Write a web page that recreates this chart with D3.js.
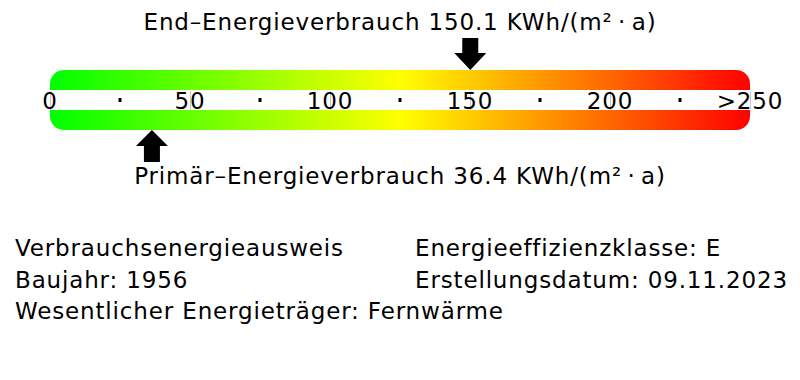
<!DOCTYPE html>
<html>
<head>
<meta charset="utf-8">
<script src="https://cdn.jsdelivr.net/npm/d3@7"></script>
<style>
  html, body { margin: 0; padding: 0; background: #fff; }
  text { font-family: "DejaVu Sans", sans-serif; fill: #000; font-size: 23px; letter-spacing: 0.85px; }
</style>
</head>
<body>
<div class="chart"></div>
<script>
// scale of the energy bar
const scaleTicks = [0, 50, 100, 150, 200, 250];
const tickLabels = ["0", "50", "100", "150", "200", ">250"];
const minorTicks = [25, 75, 125, 175, 225];
const gradientColors = ["#00ff00", "#ffff00", "#ff0000"];

// values
const endValue = 150.1;
const primaryValue = 36.4;
const endLabel = "End–Energieverbrauch 150.1 KWh/(m²\u2009·\u2009a)";
const primaryLabel = "Primär–Energieverbrauch 36.4 KWh/(m²\u2009·\u2009a)";

// info lines below the bar
const infoLeft = ["Verbrauchsenergieausweis", "Baujahr: 1956", "Wesentlicher Energieträger: Fernwärme"];
const infoRight = ["Energieeffizienzklasse: E", "Erstellungsdatum: 09.11.2023"];

const w = 800, h = 380;

const svg = d3.select(".chart").append("svg")
  .attr("width", w)
  .attr("height", h);

const x = d3.scaleLinear()
  .domain([0, 250])
  .range([50, 750]);

// gradient for the bar
const grad = svg.append("defs").append("linearGradient")
  .attr("id", "energy")
  .attr("x1", "0%").attr("x2", "100%")
  .attr("y1", "0%").attr("y2", "0%");

grad.selectAll("stop")
  .data(gradientColors)
  .enter().append("stop")
  .attr("offset", (d, i) => (i / (gradientColors.length - 1) * 100) + "%")
  .attr("stop-color", d => d);

const barTop = 70, barBottom = 130;

svg.append("rect")
  .attr("x", x(0))
  .attr("y", barTop)
  .attr("width", x(250) - x(0))
  .attr("height", barBottom - barTop)
  .attr("rx", 14)
  .attr("fill", "url(#energy)");

// white band for the labels
svg.append("rect")
  .attr("x", x(0) - 2)
  .attr("y", 90)
  .attr("width", x(250) - x(0) + 4)
  .attr("height", 20)
  .attr("fill", "#fff");

// faint tick lines at the major ticks
svg.selectAll(".tickline")
  .data(scaleTicks)
  .enter().append("line")
  .attr("class", "tickline")
  .attr("x1", d => x(d) + 0.5)
  .attr("x2", d => x(d) + 0.5)
  .attr("y1", 91)
  .attr("y2", 110)
  .attr("stroke", "#c8c8c8")
  .attr("stroke-width", 1);

// minor tick dots
svg.selectAll(".dot")
  .data(minorTicks)
  .enter().append("rect")
  .attr("class", "dot")
  .attr("x", d => x(d) - 1.5)
  .attr("y", 98)
  .attr("width", 3)
  .attr("height", 4)
  .attr("fill", "#000");

svg.selectAll(".ticklabel")
  .data(scaleTicks)
  .enter().append("text")
  .attr("class", "ticklabel")
  .attr("x", d => x(d))
  .attr("y", 109)
  .attr("text-anchor", "middle")
  .text((d, i) => tickLabels[i]);

// arrows
function downArrow(cx) {
  return "M" + (cx - 8) + ",38 H" + (cx + 8) + " V53 H" + (cx + 16) +
    " L" + cx + ",70 L" + (cx - 16) + ",53 H" + (cx - 8) + " Z";
}
function upArrow(cx) {
  return "M" + (cx - 8) + ",162 H" + (cx + 8) + " V146 H" + (cx + 16) +
    " L" + cx + ",130 L" + (cx - 16) + ",146 H" + (cx - 8) + " Z";
}

svg.append("path")
  .attr("d", downArrow(x(endValue)))
  .attr("fill", "#000");

svg.append("path")
  .attr("d", upArrow(x(primaryValue)))
  .attr("fill", "#000");

svg.append("text")
  .attr("x", w / 2)
  .attr("y", 30)
  .attr("text-anchor", "middle")
  .text(endLabel);

svg.append("text")
  .attr("x", w / 2)
  .attr("y", 184)
  .attr("text-anchor", "middle")
  .text(primaryLabel);

const rowY = [256, 288, 319];

svg.selectAll(".infoL")
  .data(infoLeft)
  .enter().append("text")
  .attr("class", "infoL")
  .attr("x", 15)
  .attr("y", (d, i) => rowY[i])
  .text(d => d);

svg.selectAll(".infoR")
  .data(infoRight)
  .enter().append("text")
  .attr("class", "infoR")
  .attr("x", 415)
  .attr("y", (d, i) => rowY[i])
  .text(d => d);
</script>
</body>
</html>
